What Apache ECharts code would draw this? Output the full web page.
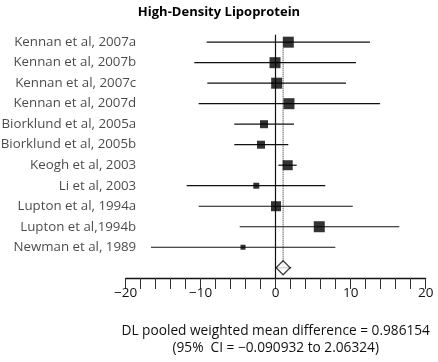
<!DOCTYPE html>
<html>
<head>
<meta charset="utf-8">
<script src="https://cdn.jsdelivr.net/npm/echarts@6/dist/echarts.min.js"></script>
<style>
  html, body { margin: 0; padding: 0; background: #fff; }
  #chart { width: 438px; height: 362px; }
</style>
</head>
<body>
<div id="chart"></div>
<script>
// Studies top to bottom
var studies = [
    'Kennan et al, 2007a', 'Kennan et al, 2007b', 'Kennan et al, 2007c', 'Kennan et al, 2007d',
    'Biorklund et al, 2005a', 'Biorklund et al, 2005b', 'Keogh et al, 2003', 'Li et al, 2003',
    'Lupton et al, 1994a', 'Lupton et al,1994b', 'Newman et al, 1989'
];
var meanDiff = [1.68, -0.09, 0.13, 1.77, -1.56, -1.96, 1.6, -2.59, 0.04, 5.81, -4.36];
var ciLow = [-9.2, -10.85, -9.12, -10.27, -5.52, -5.52, 0.35, -11.87, -10.27, -4.8, -16.63];
var ciHigh = [12.57, 10.7, 9.37, 13.9, 2.44, 1.68, 2.8, 6.61, 10.27, 16.48, 7.95];
// weight box size (px)
var boxSize = [11, 11, 11, 11, 8, 8, 10, 6, 10, 11, 5];

var pooled = 0.986154;
var pooledLow = -0.090932;
var pooledHigh = 2.06324;

var xTicks = [-20, -10, 0, 10, 20];

var FONT = '"Open Sans", "Noto Sans", sans-serif';
var INK = '#111';
var labelX = -18.6;
var pooledRow = studies.length;

function fmtNum(v) {
    return v < 0 ? '\u2212' + Math.abs(v) : String(v);
}

var chart = echarts.init(document.getElementById('chart'));

var ciData = studies.map(function(s, i) { return [ciLow[i], ciHigh[i], i]; });
ciData.push([pooledLow, pooledHigh, pooledRow]);

var option = {
    animation: false,
    title: {
        text: 'High-Density Lipoprotein',
        left: 'center',
        top: 1,
        textStyle: { fontFamily: FONT, fontSize: 13, fontWeight: 'bold', color: '#000' }
    },
    grid: { left: 125.7, right: 12.3, top: 35, bottom: 79.7 },
    xAxis: {
        type: 'value',
        min: -20,
        max: 20,
        interval: 2,
        axisLine: { onZero: false, lineStyle: { color: INK, width: 1.3 } },
        axisTick: { length: 11, lineStyle: { color: '#333', width: 1 } },
        axisLabel: {
            margin: 8,
            fontFamily: FONT,
            fontSize: 13.5,
            color: '#111',
            formatter: function(v) {
                return xTicks.indexOf(v) >= 0 ? fmtNum(v) : '';
            }
        },
        splitLine: { show: false },
        name: 'DL pooled weighted mean difference = ' + pooled + '\n(95%  CI = ' + fmtNum(pooledLow) + ' to ' + pooledHigh + ')',
        nameLocation: 'middle',
        nameGap: 45,
        nameTextStyle: { fontFamily: FONT, fontSize: 13.7, color: '#111', lineHeight: 17, align: 'center' }
    },
    yAxis: {
        type: 'value',
        inverse: true,
        min: -0.35,
        max: 11.5,
        axisLine: { show: true, onZero: true, lineStyle: { color: INK, width: 1.2 } },
        axisTick: { show: false },
        axisLabel: { show: false },
        splitLine: { show: false }
    },
    series: [
        {
            // study labels
            type: 'scatter',
            symbolSize: 0,
            silent: true,
            label: {
                show: true,
                position: 'left',
                distance: 0,
                fontFamily: FONT,
                fontSize: 13.3,
                color: '#1a1a1a',
                formatter: function(p) { return studies[p.dataIndex]; }
            },
            data: studies.map(function(s, i) { return [labelX, i]; })
        },
        {
            // pooled estimate reference line
            type: 'line',
            symbol: 'none',
            lineStyle: { color: '#222', width: 1, type: [1, 1] },
            data: [[pooled, 0.3], [pooled, pooledRow]],
            z: 1
        },
        {
            // confidence intervals
            type: 'custom',
            encode: { x: [0, 1], y: 2 },
            renderItem: function(params, api) {
                var a = api.coord([api.value(0), api.value(2)]);
                var b = api.coord([api.value(1), api.value(2)]);
                return {
                    type: 'line',
                    shape: { x1: a[0], y1: a[1], x2: b[0], y2: b[1] },
                    style: { stroke: INK, lineWidth: 1.2 }
                };
            },
            data: ciData,
            z: 2
        },
        {
            type: 'scatter',
            symbol: 'rect',
            itemStyle: { color: '#000' },
            data: meanDiff.map(function(m, i) {
                return { value: [m, i], symbolSize: boxSize[i] };
            }),
            z: 3
        },
        {
            type: 'scatter',
            symbol: 'diamond',
            symbolSize: [14, 14],
            itemStyle: { color: '#fff', borderColor: INK, borderWidth: 1.3 },
            data: [[pooled, pooledRow]],
            z: 4
        }
    ]
};

chart.setOption(option);
</script>
</body>
</html>
